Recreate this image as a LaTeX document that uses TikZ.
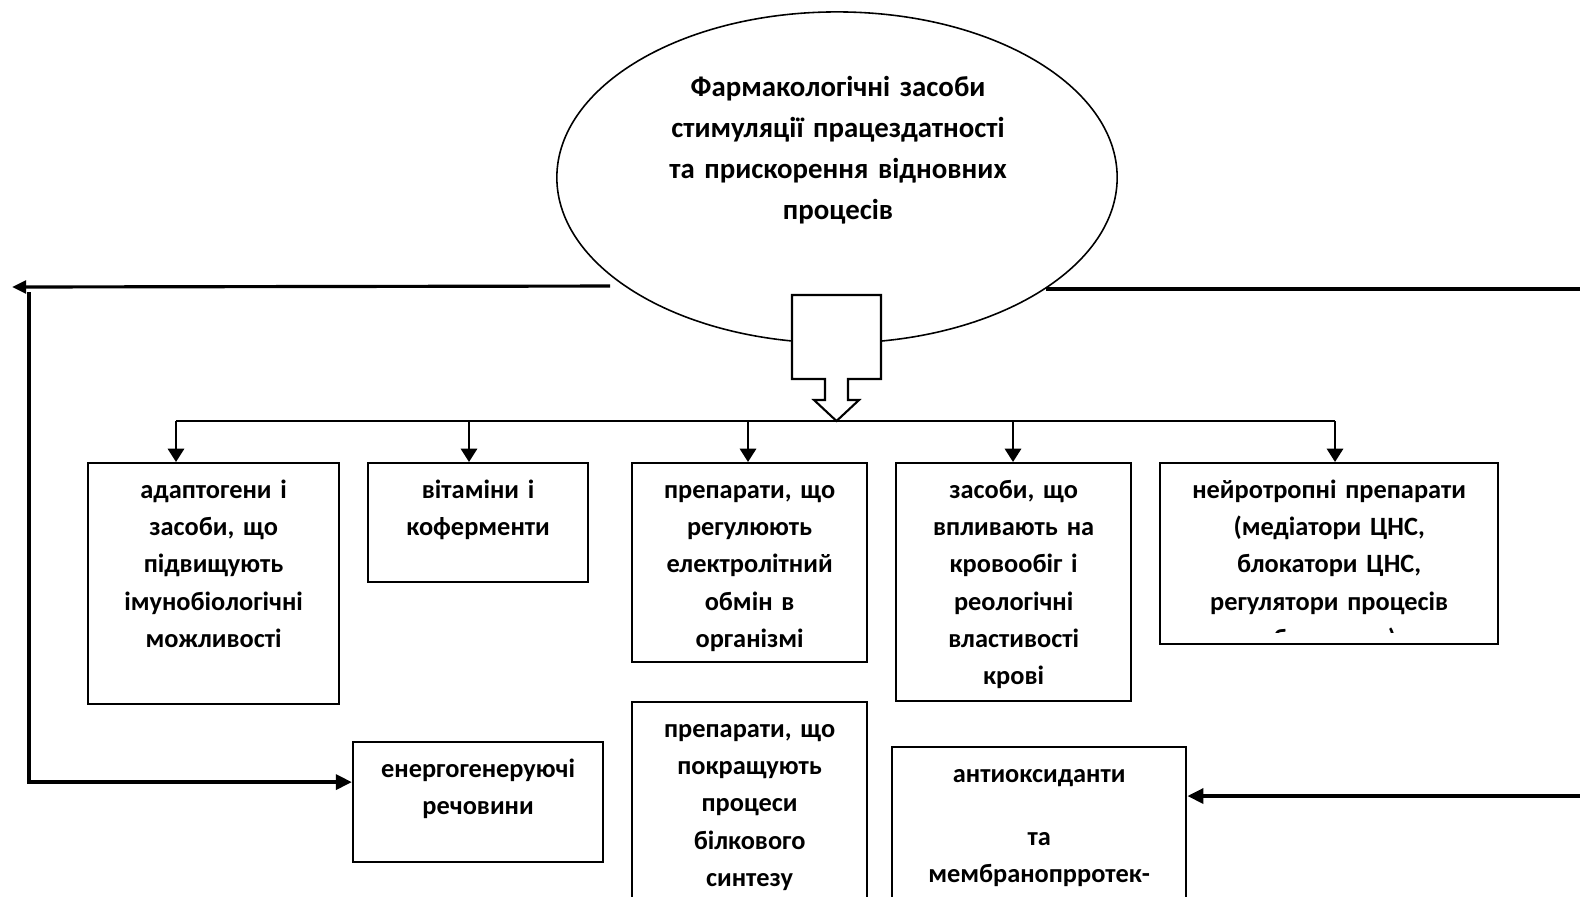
\documentclass[tikz,border=0pt]{standalone}
\usepackage{fontspec}
\setmainfont{Carlito}
\usetikzlibrary{arrows.meta,shapes.geometric}

\begin{document}
\begin{tikzpicture}[x=0.01cm,y=-0.01cm]
              \tikzstyle{every node}+=[inner sep=0pt]
              \tikzstyle{box}=[draw,line width=0.6pt,anchor=north west]
              \tikzstyle{boxtext}=[anchor=base,align=center,font=\fontsize{7.5pt}{10.62pt}\selectfont\bfseries]
              \tikzstyle{drop}=[line width=0.75pt,-{Triangle[width=4.6pt,length=3.8pt]}]
              \tikzstyle{loopline}=[line width=1.2pt,-{Triangle[width=4.2pt,length=4.6pt]}]
              \useasboundingbox (0,0) rectangle (1580,896);
              \clip (0,0) rectangle (1580,896);
              \node [draw,ellipse,line width=0.45pt,minimum width=5.60cm,minimum height=3.31cm] (title) at (837,177.5) {};
              \node [anchor=base,align=center,text width=4cm,font=\fontsize{8.2pt}{11.75pt}\selectfont\bfseries] (titletxt) at (838,96) {Фармакологічні засоби\\стимуляції працездатності\\та прискорення відновних\\процесів};
              \draw [black,line width=0.6pt,fill=white] (792,295) -- (881,295) -- (881,379) -- (848,379) -- (848,400) -- (859,400) -- (836.5,421) -- (814,400) -- (825,400) -- (825,379) -- (792,379) -- cycle;
              \node [box,minimum width=2.51cm,minimum height=2.41cm] (adapt) at (87,462) {};
              \node [box,minimum width=2.20cm,minimum height=1.19cm] (vitam) at (367,462) {};
              \node [box,minimum width=2.35cm,minimum height=1.99cm] (electro) at (631,462) {};
              \node [box,minimum width=2.35cm,minimum height=2.38cm] (blood) at (895,462) {};
              \node [box,minimum width=3.38cm,minimum height=1.81cm] (neuro) at (1159,462) {};
              \node [box,minimum width=2.50cm,minimum height=1.20cm] (energy) at (352,741) {};
              \node [box,minimum width=2.35cm,minimum height=2.40cm] (protein) at (631,701) {};
              \node [box,minimum width=2.94cm,minimum height=2.00cm] (antiox) at (891,746) {};
              \node [boxtext,text width=2.51cm] (adapttxt) at ([yshift=-0.36cm]adapt.north) {адаптогени і\\засоби, що\\підвищують\\імунобіологічні\\можливості};
              \node [boxtext,text width=2.20cm] (vitamtxt) at ([yshift=-0.36cm]vitam.north) {вітаміни і\\коферменти};
              \node [boxtext,text width=2.35cm] (electrotxt) at ([yshift=-0.36cm]electro.north) {препарати, що\\регулюють\\електролітний\\обмін в\\організмі};
              \node [boxtext,text width=2.35cm] (bloodtxt) at ([yshift=-0.36cm]blood.north) {засоби, що\\впливають на\\кровообіг і\\реологічні\\властивості\\крові};
              \begin{scope}
              \clip (neuro.north west) rectangle ([yshift=0.13cm]neuro.south east);
              \node [boxtext,text width=3.38cm] (neurotxt) at ([yshift=-0.36cm]neuro.north) {нейротропні препарати\\(медіатори ЦНС,\\блокатори ЦНС,\\регулятори процесів\\збудження)};
              \end{scope}
              \node [boxtext,text width=2.50cm] (energytxt) at ([yshift=-0.36cm]energy.north) {енергогенеруючі\\речовини};
              \node [boxtext,text width=2.35cm] (proteintxt) at ([yshift=-0.36cm]protein.north) {препарати, що\\покращують\\процеси\\білкового\\синтезу};
              \node [boxtext,text width=2.94cm] (antioxtxt) at ([yshift=-0.36cm]antiox.north) {антиоксиданти\\[0.26cm]та\\мембранопрротек-};
              \coordinate (d1) at (176,421);
              \coordinate (d2) at (469,421);
              \coordinate (d3) at (748,421);
              \coordinate (d4) at (1013,421);
              \coordinate (d5) at (1335,421);
              \draw [black,line width=0.75pt] (d1) -- (d5);
              \foreach \d/\b in {d1/adapt,d2/vitam,d3/electro,d4/blood,d5/neuro}
                \draw [drop] (\d) -- (\d |- \b.north);
              \coordinate (lefttip) at (12,287);
              \draw [black,line width=0.9pt,-{Triangle[width=3.6pt,length=4pt]}] ([xshift=-0.14cm]title.207.5) -- (lefttip);
              \coordinate (looptop) at (29,292);
              \draw [loopline] (looptop) |- ([yshift=0.2cm]energy.west);
              \coordinate (rightend) at (1590,288);
              \draw [black,line width=1.2pt] (title.332.5) -- (title.332.5 -| rightend);
              \coordinate (rightin) at (1590,796);
              \draw [loopline] (rightin) -- (rightin -| antiox.east);
\end{tikzpicture}
\end{document}
